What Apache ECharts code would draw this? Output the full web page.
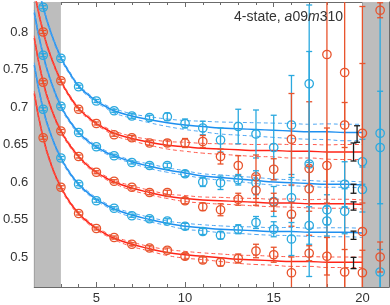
<!DOCTYPE html>
<html><head><meta charset="utf-8">
<script src="https://cdn.jsdelivr.net/npm/echarts@6/dist/echarts.min.js"></script>
<style>html,body{margin:0;padding:0;background:#fff}#c{width:390px;height:305px}</style>
</head><body><div id="c"></div>
<script>
// ---- data ----
const tVals = [2,3,4,5,6,7,8,9,10,11,12,13,14,15,16,17,18,19,20,21];

const b1Vals = [0.833,0.765,0.727,0.708,0.695,0.688,0.686,0.687,0.678,0.672,0.656,0.674,0.664,0.646,0.676,0.731,null,null,0.627,0.665];
const b1Errs = [0.002,0.002,0.002,0.002,0.002,0.003,0.003,0.005,0.006,0.009,0.016,0.023,0.032,0.043,0.066,0.105,null,null,0.03,0.3];
const r1Vals = [0.800,0.735,0.697,0.678,0.663,0.659,0.652,0.652,0.652,0.654,0.634,0.622,0.607,0.617,0.657,0.618,0.770,0.746,0.665,0.829];
const r1Errs = [0.002,0.002,0.002,0.002,0.002,0.003,0.003,0.004,0.006,0.008,0.010,0.013,0.029,0.014,0.061,0.089,0.4,0.4,0.093,0.01];
const b2Vals = [0.769,0.701,0.666,0.647,0.635,0.626,0.622,0.622,0.611,0.600,0.599,0.603,0.599,0.574,0.579,0.624,0.563,0.597,0.590,0.646];
const b2Errs = [0.002,0.002,0.002,0.002,0.002,0.002,0.003,0.003,0.004,0.006,0.009,0.007,0.016,0.02,0.027,0.15,0.02,0.03,0.03,0.075];
const r2Vals = [0.733,0.668,0.634,0.613,0.601,0.593,0.586,0.586,0.575,0.567,0.563,0.577,0.589,0.573,0.557,0.591,0.622,0.676,0.534,null];
const r2Errs = [0.002,0.002,0.002,0.002,0.002,0.002,0.003,0.003,0.004,0.005,0.008,0.008,0.02,0.012,0.016,0.03,0.05,0.03,0.3,null];
const b3Vals = [0.697,0.632,0.597,0.575,0.565,0.555,0.551,0.548,0.541,0.534,0.529,0.537,0.546,0.537,0.524,0.542,0.548,0.561,null,0.480];
const b3Errs = [0.002,0.002,0.002,0.002,0.002,0.002,0.003,0.003,0.004,0.004,0.005,0.006,0.008,0.01,0.022,0.025,0.02,0.03,null,0.03];
const r3Vals = [0.659,0.593,0.558,0.538,0.526,0.517,0.512,0.509,0.501,0.496,0.493,0.498,0.508,0.503,0.479,0.505,0.501,0.480,0.479,0.500];
const r3Errs = [0.002,0.002,0.002,0.002,0.002,0.002,0.003,0.003,0.004,0.004,0.005,0.006,0.009,0.01,0.021,0.01,0.025,0.03,0.03,0.02];

// fitted curves (center) and band half widths
const fitT = [1.5,2,2.5,3,3.5,4,4.5,5,5.5,6,7,8,9,10,11,12,13,14,15,16,17,18,19,20];
const b1Fit = [0.885,0.833,0.795,0.766,0.745,0.728,0.717,0.708,0.701,0.695,0.688,0.683,0.679,0.676,0.674,0.672,0.671,0.670,0.669,0.668,0.667,0.667,0.666,0.666];
const b1Band = [0.003,0.002,0.002,0.002,0.002,0.002,0.002,0.002,0.002,0.003,0.003,0.004,0.005,0.006,0.007,0.008,0.0085,0.009,0.0095,0.010,0.010,0.0105,0.011,0.011];
const r1Fit = [0.855,0.800,0.763,0.735,0.714,0.698,0.687,0.678,0.671,0.665,0.658,0.653,0.649,0.647,0.645,0.644,0.643,0.642,0.642,0.641,0.641,0.640,0.640,0.640];
const r1Band = [0.003,0.002,0.002,0.002,0.002,0.002,0.002,0.002,0.002,0.003,0.003,0.004,0.005,0.006,0.0065,0.007,0.0075,0.008,0.0085,0.009,0.009,0.0095,0.010,0.010];
const b2Fit = [0.826,0.769,0.730,0.701,0.681,0.666,0.655,0.647,0.640,0.635,0.627,0.621,0.616,0.612,0.608,0.606,0.604,0.602,0.600,0.599,0.598,0.597,0.597,0.596];
const b2Band = [0.003,0.002,0.002,0.002,0.002,0.002,0.002,0.002,0.002,0.002,0.002,0.003,0.003,0.003,0.003,0.0035,0.0035,0.004,0.004,0.004,0.004,0.004,0.004,0.004];
const r2Fit = [0.792,0.733,0.695,0.668,0.649,0.634,0.622,0.613,0.606,0.600,0.592,0.586,0.581,0.578,0.576,0.575,0.574,0.573,0.572,0.572,0.571,0.571,0.571,0.570];
const r2Band = [0.003,0.002,0.002,0.002,0.002,0.002,0.002,0.002,0.002,0.002,0.003,0.003,0.003,0.004,0.004,0.0045,0.0045,0.005,0.005,0.0055,0.0055,0.006,0.006,0.006];
const b3Fit = [0.756,0.697,0.659,0.632,0.612,0.597,0.586,0.577,0.570,0.564,0.556,0.550,0.545,0.541,0.539,0.537,0.536,0.535,0.534,0.534,0.533,0.533,0.533,0.532];
const b3Band = [0.003,0.002,0.002,0.002,0.002,0.002,0.002,0.002,0.002,0.002,0.003,0.003,0.003,0.004,0.004,0.0045,0.0045,0.005,0.005,0.0055,0.0055,0.006,0.006,0.006];
const r3Fit = [0.718,0.659,0.620,0.593,0.573,0.558,0.547,0.538,0.531,0.525,0.517,0.511,0.506,0.503,0.501,0.499,0.497,0.496,0.495,0.494,0.494,0.493,0.493,0.493];
const r3Band = [0.003,0.002,0.002,0.002,0.002,0.002,0.002,0.002,0.002,0.002,0.003,0.003,0.004,0.0045,0.0045,0.005,0.0055,0.006,0.006,0.0065,0.0065,0.007,0.007,0.007];

// fitted ground-state energies (black bars)
const fitBarT = [19.7,19.5,19.5,19.5,19.5,19.5];
const fitBarVals = [0.664,0.640,0.591,0.568,0.529,0.492];
const fitBarErrs = [0.011,0.012,0.006,0.0055,0.0055,0.0075];

const xMajorTicks = [5,10,15,20];
const xMinorTicks = [2,3,4,6,7,8,9,11,12,13,14,16,17,18,19,21];
const yMajorTicks = [0.5,0.55,0.6,0.65,0.7,0.75,0.8];
const yMinorTicks = [0.47,0.48,0.49,0.51,0.52,0.53,0.54,0.56,0.57,0.58,0.59,0.61,0.62,0.63,0.64,0.66,0.67,0.68,0.69,0.71,0.72,0.73,0.74,0.76,0.77,0.78,0.79,0.81,0.82,0.83];
const shaded = [[1.5,3],[20,21.5]];

// ---- styles ----
const BLUE_LINE = '#1e8ff0', BLUE_DASH = '#4ea6f2', BLUE_PT = '#2aa9df';
const RED_LINE = '#ff2418', RED_DASH = '#ff5a4c', RED_PT = '#e8532c';
const AX = '#6b6b6b';
const FONT = 'Liberation Sans';

function fitSeries(center, band, solid, dash) {
  const common = {type:'line', xAxisIndex:0, yAxisIndex:0, showSymbol:false, symbol:'none',
    smooth:0.5, silent:true, animation:false, z:3};
  return [
    Object.assign({}, common, {data: fitT.map((t,i)=>[t, center[i]]), lineStyle:{color:solid, width:1.5}}),
    Object.assign({}, common, {data: fitT.map((t,i)=>[t, center[i]+band[i]]), lineStyle:{color:dash, width:1, type:[4,3]}}),
    Object.assign({}, common, {data: fitT.map((t,i)=>[t, center[i]-band[i]]), lineStyle:{color:dash, width:1, type:[4,3]}})
  ];
}

function errSeries(xs, vals, errs, color, withCircle, z) {
  const data = [];
  xs.forEach((t,i)=>{ if (vals[i] != null) data.push([t, vals[i], errs[i]]); });
  return {
    type:'custom', xAxisIndex:0, yAxisIndex:0, z:z, clip:true, silent:true, animation:false,
    encode:{x:0, y:1},
    renderItem: function(params, api) {
      const x = api.value(0), v = api.value(1), e = api.value(2);
      const p = api.coord([x, v]);
      const top = api.coord([x, v + e]), bot = api.coord([x, v - e]);
      const cw = 3;
      const st = {stroke:color, lineWidth:1.3, fill:null};
      const ch = [
        {type:'line', shape:{x1:p[0], y1:top[1], x2:p[0], y2:bot[1]}, style:st},
        {type:'line', shape:{x1:p[0]-cw, y1:top[1], x2:p[0]+cw, y2:top[1]}, style:st},
        {type:'line', shape:{x1:p[0]-cw, y1:bot[1], x2:p[0]+cw, y2:bot[1]}, style:st}
      ];
      if (withCircle) ch.push({type:'circle', shape:{cx:p[0], cy:p[1], r:4.2}, style:{stroke:color, lineWidth:1.3, fill:'rgba(0,0,0,0)'}});
      return {type:'group', children:ch};
    },
    data: data
  };
}

function xAx(pos, ticks, len, labels, line) {
  return {type:'value', min:1.5, max:21.5, position:pos,
    axisLine:{show:line, onZero:false, lineStyle:{color:AX, width:1.2}},
    axisTick:{show:true, inside:true, length:len, customValues:ticks, lineStyle:{color:AX, width:1}},
    axisLabel:{show:labels, customValues:labels?ticks:undefined, color:'#333', fontSize:13, fontFamily:FONT, margin:5},
    splitLine:{show:false}};
}
function yAx(pos, ticks, len, labels, line) {
  return {type:'value', min:0.46, max:0.84, position:pos,
    axisLine:{show:line, onZero:false, lineStyle:{color:AX, width:1.2}},
    axisTick:{show:true, inside:true, length:len, customValues:ticks, lineStyle:{color:AX, width:1}},
    axisLabel:{show:labels, customValues:labels?ticks:undefined, color:'#333', fontSize:13, fontFamily:FONT, margin:6,
      formatter: v => String(+(+v).toFixed(2))},
    splitLine:{show:false}};
}

const series = [
  {type:'line', xAxisIndex:0, yAxisIndex:0, data:[], z:1, silent:true,
   markArea:{silent:true, itemStyle:{color:'#bdbdbd'}, data: shaded.map(s=>[{xAxis:s[0]},{xAxis:s[1]}])}}
];
series.push(...fitSeries(b1Fit, b1Band, BLUE_LINE, BLUE_DASH));
series.push(...fitSeries(r1Fit, r1Band, RED_LINE, RED_DASH));
series.push(...fitSeries(b2Fit, b2Band, BLUE_LINE, BLUE_DASH));
series.push(...fitSeries(r2Fit, r2Band, RED_LINE, RED_DASH));
series.push(...fitSeries(b3Fit, b3Band, BLUE_LINE, BLUE_DASH));
series.push(...fitSeries(r3Fit, r3Band, RED_LINE, RED_DASH));
series.push(errSeries(tVals, b1Vals, b1Errs, BLUE_PT, true, 5));
series.push(errSeries(tVals, r1Vals, r1Errs, RED_PT, true, 5));
series.push(errSeries(tVals, b2Vals, b2Errs, BLUE_PT, true, 5));
series.push(errSeries(tVals, r2Vals, r2Errs, RED_PT, true, 5));
series.push(errSeries(tVals, b3Vals, b3Errs, BLUE_PT, true, 5));
series.push(errSeries(tVals, r3Vals, r3Errs, RED_PT, true, 5));
series.push(errSeries(fitBarT, fitBarVals, fitBarErrs, '#1a1a1a', false, 6));

const chart = echarts.init(document.getElementById('c'), null, {renderer:'canvas'});
chart.setOption({
  animation:false,
  backgroundColor:'#fff',
  grid:{left:33, right:1, top:2, bottom:18, containLabel:false},
  xAxis:[
    xAx('bottom', xMajorTicks, 5, true, true),
    xAx('bottom', xMinorTicks, 3, false, false),
    xAx('top', xMajorTicks, 5, false, true),
    xAx('top', xMinorTicks, 3, false, false)
  ],
  yAxis:[
    yAx('left', yMajorTicks, 5, true, true),
    yAx('left', yMinorTicks, 3, false, false),
    yAx('right', yMajorTicks, 5, false, true),
    yAx('right', yMinorTicks, 3, false, false)
  ],
  graphic:[{
    type:'text', z:100, silent:true,
    style:{x:343, y:17, align:'right', verticalAlign:'middle',
      text:'{n|4-state, }{i|a}{n|09}{i|m}{n|310}',
      rich:{n:{fontFamily:FONT, fontSize:14, fill:'#333'}, i:{fontFamily:FONT, fontSize:14, fontStyle:'italic', fill:'#333'}}}
  }],
  series: series
});
</script>
</body></html>
